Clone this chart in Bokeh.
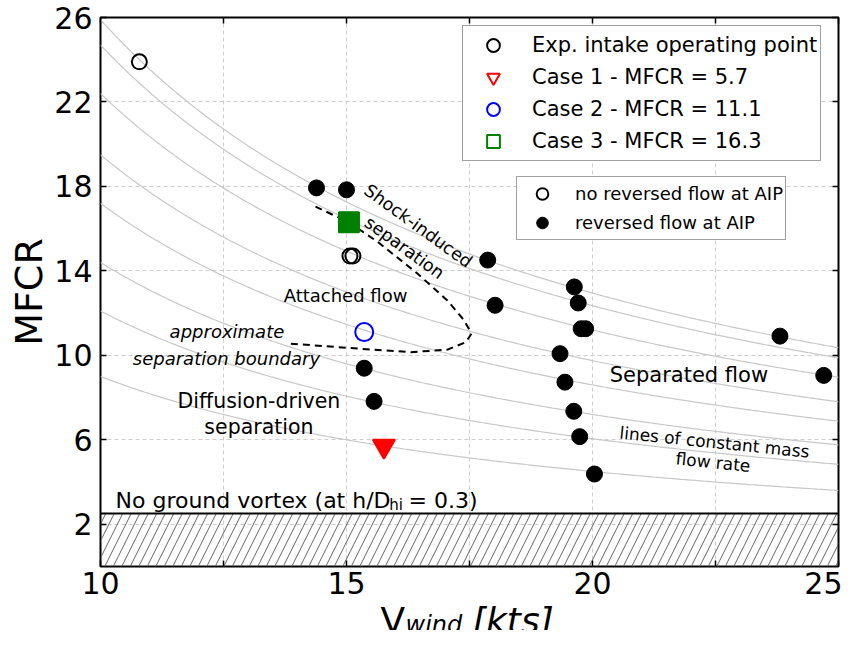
import numpy as np
from bokeh.plotting import figure
from bokeh.layouts import column
from bokeh.models import (Legend, LegendItem, Label, LinearAxis, FixedTicker, Range1d,
                          CustomLabelingPolicy)
from bokeh.embed import file_html
from bokeh.resources import INLINE

# ---------------- data ----------------
# experimental operating points without reversed flow at AIP (open)
open_x = [10.79, 15.07, 15.13]
open_y = [23.9, 14.7, 14.7]
# experimental operating points with reversed flow at AIP (filled)
filled_x = [14.39, 15.0, 17.87, 18.02, 19.63, 19.71, 19.77, 19.86, 19.34, 19.44,
            19.62, 19.74, 20.04, 23.81, 24.70, 15.36, 15.56]
filled_y = [17.93, 17.84, 14.51, 12.37, 13.24, 12.48, 11.26, 11.26, 10.08, 8.73,
            7.35, 6.15, 4.38, 10.91, 9.05, 9.39, 7.82]
# CFD cases
case_labels = ["Case 1 - MFCR = 5.7", "Case 2 - MFCR = 11.1", "Case 3 - MFCR = 16.3"]
case1_x, case1_y = [15.76], [5.7]
case2_x, case2_y = [15.36], [11.1]
case3_x, case3_y = [15.05], [16.3]
# lines of constant mass flow rate: MFCR = K / V_wind
mass_flow_K = [259, 247, 224, 195, 172, 144, 121, 90]
# approximate separation boundary
boundary_x = [14.37, 15.05, 15.63, 16.44, 17.05, 17.39, 17.54, 17.43, 17.05, 16.31, 15.29, 13.87]
boundary_y = [17.04, 16.30, 15.38, 13.88, 12.60, 11.66, 11.03, 10.63, 10.27, 10.15, 10.31, 10.55]
# no ground vortex limit
no_vortex_limit = 2.5
x_major_ticks = [10, 15, 20, 25]
x_minor_ticks = [12.5, 17.5, 22.5]
y_ticks = [2, 6, 10, 14, 18, 22, 26]
x_lim = (10, 25)
y_lim = (0, 26)

FONT = "DejaVu Sans"

# main canvas: 17 + 549 + 60 = 626 px tall (bottom border fixed large enough for tick labels)
p = figure(frame_width=738, frame_height=549, x_range=Range1d(*x_lim), y_range=Range1d(*y_lim),
           output_backend="svg", toolbar_location=None,
           min_border_left=100, min_border_right=4, min_border_top=17, min_border_bottom=60)
p.outline_line_color = "black"
p.outline_line_width = 2
p.background_fill_color = "white"

bottom_ax = p.below[0]
left_ax = p.left[0]
bottom_ax.ticker = FixedTicker(ticks=x_major_ticks, minor_ticks=x_minor_ticks)
left_ax.ticker = FixedTicker(ticks=y_ticks)
no_labels = CustomLabelingPolicy(
    code="const n = indices.size; for (let i = 0; i < n; i++) { indices.unset(i) } return indices")
top_ax = LinearAxis(ticker=FixedTicker(ticks=x_major_ticks, minor_ticks=x_minor_ticks),
                    major_label_policy=no_labels)
right_ax = LinearAxis(ticker=FixedTicker(ticks=y_ticks), major_label_policy=no_labels)
p.add_layout(top_ax, "above")
p.add_layout(right_ax, "right")
for ax in [bottom_ax, left_ax, top_ax, right_ax]:
    ax.axis_line_color = None
    ax.major_tick_in = 6
    ax.major_tick_out = 0
    ax.minor_tick_in = 6
    ax.minor_tick_out = 0
    ax.major_tick_line_width = 1.5
    ax.minor_tick_line_width = 1.5
    ax.major_label_text_font = FONT
    ax.major_label_text_font_size = "30px"
    ax.major_label_text_color = "black"
for ax in [top_ax, right_ax]:
    ax.major_label_standoff = 0
    ax.major_label_text_font_size = "1px"
left_ax.minor_tick_in = 0
right_ax.minor_tick_in = 0
bottom_ax.major_label_standoff = 5
left_ax.major_label_standoff = 8
left_ax.axis_label = "MFCR"
left_ax.axis_label_text_font = FONT
left_ax.axis_label_text_font_size = "38px"
left_ax.axis_label_text_font_style = "normal"
left_ax.axis_label_text_color = "black"
left_ax.axis_label_standoff = 0

for g in [p.xgrid[0], p.ygrid[0]]:
    g.grid_line_color = "#cfcfcf"
    g.grid_line_dash = "4 3"
    g.grid_line_width = 1
p.xgrid[0].minor_grid_line_color = "#cfcfcf"
p.xgrid[0].minor_grid_line_dash = "4 3"
p.xgrid[0].minor_grid_line_width = 1

# hatched no-ground-vortex region
p.quad(left=[x_lim[0]], right=[x_lim[1]], bottom=[y_lim[0]], top=[no_vortex_limit],
       fill_alpha=0, line_color=None, hatch_pattern="/", hatch_color="#666666",
       hatch_weight=1, hatch_scale=17)
p.hspan(y=[no_vortex_limit], line_color="black", line_width=2)

# constant mass flow lines
vx = np.linspace(x_lim[0], x_lim[1], 300)
for K in mass_flow_K:
    p.line(vx, K / vx, line_color="#c8c8c8", line_width=1.2)

# separation boundary
p.line(boundary_x, boundary_y, line_color="black", line_width=2, line_dash="7 5")

# points
r_filled = p.scatter(filled_x, filled_y, marker="circle", size=16, fill_color="black",
                     line_color="black", line_width=1)
r_open = p.scatter(open_x, open_y, marker="circle", size=15, fill_color=None,
                   line_color="black", line_width=2)
# open outlines used by the legend, drawn beneath the filled case markers
r_case1 = p.scatter(case1_x, case1_y, marker="inverted_triangle", size=22, fill_color=None,
                    line_color="red", line_width=2)
r_case3 = p.scatter(case3_x, case3_y, marker="square", size=20, fill_color=None,
                    line_color="green", line_width=2)
p.scatter(case1_x, case1_y, marker="inverted_triangle", size=22, fill_color="red",
          line_color="red", line_width=1)
p.scatter(case3_x, case3_y, marker="square", size=20, fill_color="green",
          line_color="green", line_width=1)
r_case2 = p.scatter(case2_x, case2_y, marker="circle", size=18, fill_color=None,
                    line_color="blue", line_width=2)

leg1 = Legend(items=[LegendItem(label="Exp. intake operating point", renderers=[r_open]),
                     LegendItem(label=case_labels[0], renderers=[r_case1]),
                     LegendItem(label=case_labels[1], renderers=[r_case2]),
                     LegendItem(label=case_labels[2], renderers=[r_case3])],
              location=(362, 405), margin=0, padding=3, spacing=0,
              glyph_width=54, glyph_height=32, label_standoff=12,
              label_text_font=FONT, label_text_font_size="21px", label_text_color="black",
              border_line_color="#444444", border_line_width=1.5,
              background_fill_alpha=1.0)
leg2 = Legend(items=[LegendItem(label="no reversed flow at AIP", renderers=[r_open]),
                     LegendItem(label="reversed flow at AIP", renderers=[r_filled])],
              location=(416, 326), margin=0, padding=2, spacing=0,
              glyph_width=46, glyph_height=29, label_standoff=10,
              label_text_font=FONT, label_text_font_size="18px", label_text_color="black",
              border_line_color="#444444", border_line_width=1.5,
              background_fill_alpha=1.0)
p.add_layout(leg1)
p.add_layout(leg2)


def lab(fig, x, y, text, size, angle=0, style="normal", align="center", baseline="middle"):
    fig.add_layout(Label(x=x, y=y, text=text, text_font=FONT, text_font_size=size,
                         text_font_style=style, text_align=align, text_baseline=baseline,
                         angle=angle, angle_units="deg", text_color="black"))


lab(p, 16.46, 16.13, "Shock-induced", "17.5px", angle=-36)
lab(p, 16.18, 15.10, "separation", "17.5px", angle=-36)
lab(p, 14.98, 12.83, "Attached flow", "18px")
lab(p, 12.57, 11.14, "approximate", "18px", style="italic")
lab(p, 12.56, 9.84, "separation boundary", "18px", style="italic")
lab(p, 13.22, 7.86, "Diffusion-driven", "20.5px")
lab(p, 13.22, 6.63, "separation", "20.5px")
lab(p, 21.96, 9.05, "Separated flow", "21px")
lab(p, 22.48, 5.89, "lines of constant mass", "17px", angle=-5.8)
lab(p, 22.45, 4.94, "flow rate", "17px", angle=-5.8)
lab(p, 10.305, 3.13, "No ground vortex (at h/D", "22px", align="left", baseline="alphabetic")
lab(p, 15.87, 2.92, "hi", "15px", align="left", baseline="alphabetic")
lab(p, 16.26, 3.13, "= 0.3)", "22px", align="left", baseline="alphabetic")

# x-axis title strip (V_wind [kts]) sharing the x scale; pulled up 40 px over the
# tick-label band so the page ends at 626 - 40 + 44 = 630 px
lf = figure(frame_width=738, frame_height=44, x_range=p.x_range, y_range=Range1d(0, 44),
            x_axis_type=None, y_axis_type=None, output_backend="svg", toolbar_location=None,
            min_border_left=100, min_border_right=4, min_border_top=0, min_border_bottom=0,
            margin=(-40, 0, 0, 0))
lf.outline_line_color = None
lf.border_fill_color = None
lf.background_fill_color = None
lf.grid.visible = False
lab(lf, 15.69, 10, "V", "36px", align="left", baseline="alphabetic")
lab(lf, 16.20, 6, "wind", "24px", style="italic", align="left", baseline="alphabetic")
lab(lf, 17.55, 10, "[kts]", "36px", style="italic", align="left", baseline="alphabetic")

layout = column(p, lf, spacing=0)
open("out.html", "w").write(file_html(layout, INLINE))
